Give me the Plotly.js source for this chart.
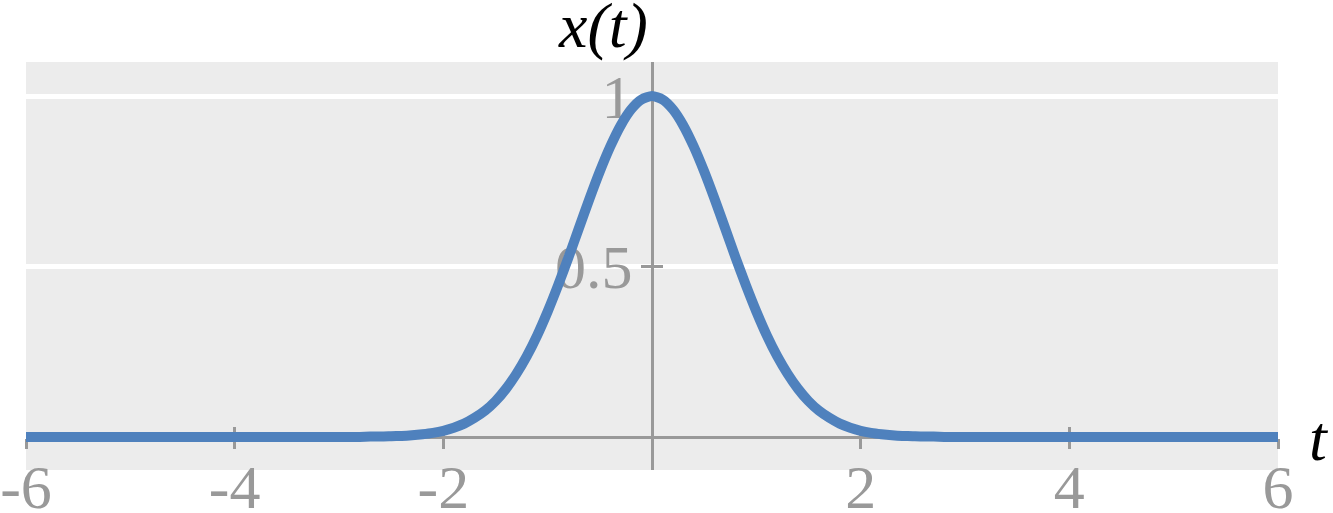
<!DOCTYPE html>
<html>
<head>
<meta charset="utf-8">
<script src="https://cdn.plot.ly/plotly-3.0.1.min.js"></script>
<style>html,body{margin:0;padding:0;background:#fff;}#chart{width:1333px;height:513px;}</style>
</head>
<body>
<div id="chart"></div>
<script>
// values
const tValues = [-6, -5, -4, -3.5,
  -3, -2.9, -2.8, -2.7, -2.6, -2.5, -2.4, -2.3, -2.2, -2.1, -2, -1.9, -1.8, -1.7, -1.6, -1.5,
  -1.4, -1.3, -1.2, -1.1, -1, -0.9, -0.8, -0.7, -0.6, -0.5, -0.4, -0.3, -0.2, -0.1, 0,
  0.1, 0.2, 0.3, 0.4, 0.5, 0.6, 0.7, 0.8, 0.9, 1, 1.1, 1.2, 1.3, 1.4, 1.5,
  1.6, 1.7, 1.8, 1.9, 2, 2.1, 2.2, 2.3, 2.4, 2.5, 2.6, 2.7, 2.8, 2.9, 3,
  3.5, 4, 5, 6];
const xValues = [0, 0, 0, 0,
  0, 0, 0, 0.001, 0.001, 0.002, 0.003, 0.005, 0.008, 0.012, 0.018, 0.027, 0.039, 0.056, 0.077, 0.105,
  0.141, 0.185, 0.237, 0.298, 0.368, 0.445, 0.527, 0.613, 0.698, 0.779, 0.852, 0.914, 0.961, 0.990, 1,
  0.990, 0.961, 0.914, 0.852, 0.779, 0.698, 0.613, 0.527, 0.445, 0.368, 0.298, 0.237, 0.185, 0.141, 0.105,
  0.077, 0.056, 0.039, 0.027, 0.018, 0.012, 0.008, 0.005, 0.003, 0.002, 0.001, 0.001, 0, 0, 0,
  0, 0, 0, 0];
const xTickVals = [-6, -4, -2, 2, 4, 6];
const xTickText = ['-6', '-4', '-2', '2', '4', '6'];
const yTickVals = [0.5, 1];
const yTickText = ['0.5', '1'];

const gray = '#999999';
const serif = "'Liberation Serif', serif";
const xr = [-6, 6], yr = [-0.097, 1.1];
const zeroPos = (0 - yr[0]) / (yr[1] - yr[0]);
const tickFont = {family: serif, size: 62, color: gray};

const trace = {
  x: tValues, y: xValues, type: 'scatter', mode: 'lines',
  line: {color: '#4f81bd', width: 10, shape: 'spline', smoothing: 0.6},
  xaxis: 'x', yaxis: 'y', hoverinfo: 'skip'
};
const helper2 = {x: [0], y: [0], xaxis: 'x2', yaxis: 'y2', mode: 'markers', marker: {opacity: 0}, hoverinfo: 'skip'};
const helper3 = {x: [0], y: [0], xaxis: 'x3', yaxis: 'y3', mode: 'markers', marker: {opacity: 0}, hoverinfo: 'skip'};

const layout = {
  width: 1333, height: 513,
  margin: {l: 26, r: 55, t: 62, b: 43},
  paper_bgcolor: '#ffffff', plot_bgcolor: '#ececec',
  showlegend: false,
  xaxis: {range: xr, tickvals: xTickVals, ticktext: xTickText, ticks: '', showgrid: false,
          zeroline: false, showline: false, tickfont: tickFont, anchor: 'free', position: 0.062,
          ticklabeloverflow: 'allow', fixedrange: true, layer: 'below traces'},
  xaxis2: {range: xr, overlaying: 'x', anchor: 'free', position: zeroPos, tickvals: xTickVals,
           ticks: 'outside', ticklen: 10, tickwidth: 3, tickcolor: gray, showticklabels: false,
           showline: true, linecolor: gray, linewidth: 3, showgrid: false, zeroline: false, layer: 'below traces'},
  xaxis3: {range: xr, overlaying: 'x', anchor: 'free', position: zeroPos, tickvals: xTickVals,
           ticks: 'inside', ticklen: 10, tickwidth: 3, tickcolor: gray, showticklabels: false,
           showline: false, showgrid: false, zeroline: false, layer: 'below traces'},
  yaxis: {range: yr, tickvals: yTickVals, ticktext: yTickText, ticks: '', showgrid: true,
          gridcolor: '#ffffff', gridwidth: 5, zeroline: false, showline: false,
          showticklabels: false, anchor: 'x', fixedrange: true, layer: 'below traces'},
  yaxis2: {range: yr, overlaying: 'y', anchor: 'free', position: 0.5, tickvals: yTickVals, ticktext: yTickText,
           ticks: 'outside', ticklen: 10, tickwidth: 3, tickcolor: gray, tickfont: tickFont,
           ticklabelstandoff: -4,
           showline: true, linecolor: gray, linewidth: 3, showgrid: false, zeroline: false, layer: 'below traces'},
  yaxis3: {range: yr, overlaying: 'y', anchor: 'free', position: 0.5, tickvals: yTickVals,
           ticks: 'inside', ticklen: 10, tickwidth: 3, tickcolor: gray, showticklabels: false,
           showline: false, showgrid: false, zeroline: false, layer: 'below traces'},
  annotations: [
    {text: 'x(t)', xref: 'paper', yref: 'paper', x: 0.461, y: 1, xanchor: 'center', yanchor: 'bottom',
     yshift: -1, showarrow: false,
     font: {family: serif, size: 64, color: '#000', style: 'italic'}},
    {text: 't', xref: 'paper', yref: 'paper', x: 1.0, y: zeroPos, xanchor: 'left', yanchor: 'middle',
     xshift: 29, yshift: -2, showarrow: false,
     font: {family: serif, size: 64, color: '#000', style: 'italic'}}
  ]
};
Plotly.newPlot('chart', [helper2, helper3, trace], layout, {displayModeBar: false});
</script>
</body>
</html>
